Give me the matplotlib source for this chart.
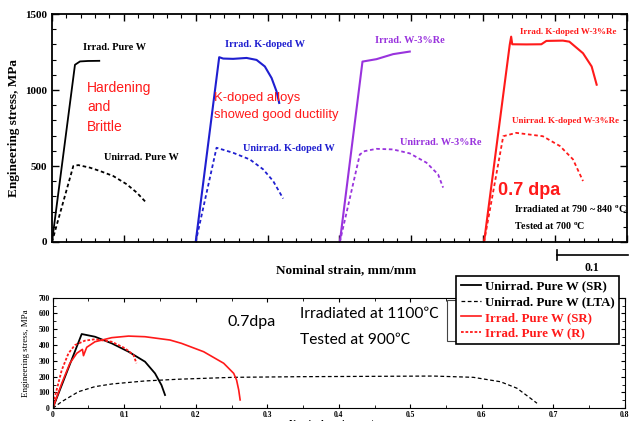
import matplotlib
matplotlib.use('Agg')
import matplotlib.pyplot as plt
from matplotlib.ticker import MultipleLocator
from matplotlib.lines import Line2D
from matplotlib.patches import Rectangle

plt.rcParams['mathtext.fontset'] = 'custom'
plt.rcParams['mathtext.rm'] = 'Liberation Serif:bold'
plt.rcParams['mathtext.it'] = 'Liberation Serif:bold'

SERIF = 'Liberation Serif'
SANS = 'Liberation Sans'

# ---- top panel: 0.7 dpa, irradiated at 790~840 C, tested at 700 C (curves offset by 0.2) ----
purew_irr_x = [0.0, 0.032, 0.039, 0.050, 0.0658]
purew_irr_y = [0, 1166, 1188, 1191, 1192]
purew_un_x = [0.0, 0.0297, 0.0366, 0.0529, 0.0668, 0.0853, 0.104, 0.118, 0.132]
purew_un_y = [0, 500, 506, 489, 467, 434, 380, 325, 255]

kw_irr_x = [0.2, 0.2327, 0.2382, 0.252, 0.2708, 0.2847, 0.2962, 0.3056, 0.3125, 0.3162]
kw_irr_y = [0, 1216, 1207, 1205, 1211, 1198, 1155, 1079, 991, 915]
kw_un_x = [0.2, 0.229, 0.252, 0.2754, 0.2939, 0.3078, 0.3217]
kw_un_y = [0, 620, 587, 543, 478, 401, 286]

re_irr_x = [0.4006, 0.4321, 0.4516, 0.4747, 0.4979]
re_irr_y = [0, 1187, 1203, 1236, 1253]
re_un_x = [0.4006, 0.4284, 0.4353, 0.4516, 0.4747, 0.4979, 0.5211, 0.5373, 0.5443]
re_un_y = [0, 576, 598, 613, 609, 583, 522, 445, 358]

kre_irr_x = [0.6013, 0.637, 0.639, 0.6405, 0.660, 0.681, 0.688, 0.711, 0.720, 0.739, 0.751, 0.758]
kre_irr_y = [0, 1297, 1351, 1301, 1300, 1301, 1323, 1325, 1318, 1242, 1155, 1035]
kre_un_x = [0.6013, 0.628, 0.646, 0.683, 0.707, 0.725, 0.739]
kre_un_y = [0, 696, 718, 696, 631, 544, 401]

# ---- bottom panel: 0.7 dpa, irradiated at 1100 C, tested at 900 C ----
sr_x = [0.0, 0.0405, 0.059, 0.0825, 0.106, 0.129, 0.143, 0.152, 0.157]
sr_y = [0, 470, 453, 411, 358, 295, 221, 147, 84]
lta_x = [0.0, 0.0126, 0.036, 0.059, 0.083, 0.129, 0.176, 0.253, 0.346, 0.439, 0.532,
         0.588, 0.626, 0.649, 0.668, 0.677]
lta_y = [0, 42, 105, 137, 154, 173, 184, 196, 200, 202, 204, 196, 168, 127, 63, 32]
irr_sr_x = [0.0, 0.0126, 0.024, 0.0336, 0.0415, 0.043, 0.0475, 0.059, 0.0825, 0.106,
            0.129, 0.164, 0.180, 0.211, 0.239, 0.253, 0.257, 0.260, 0.262]
irr_sr_y = [0, 158, 285, 348, 373, 333, 386, 421, 447, 457, 453, 432, 411, 358, 285,
            221, 179, 116, 53]
irr_r_x = [0.0, 0.003, 0.0126, 0.022, 0.031, 0.045, 0.059, 0.0825, 0.101, 0.113, 0.117]
irr_r_y = [0, 73, 242, 348, 400, 428, 437, 421, 380, 337, 285]

legend_labels = ['Unirrad. Pure W (SR)', 'Unirrad. Pure W (LTA)',
                 'Irrad. Pure W (SR)', 'Irrad. Pure W (R)']

RED = '#ff1a1a'
BLUE = '#1f1fd0'
PURPLE = '#9933dd'

fig = plt.figure(figsize=(6.3, 4.21), dpi=100)

# top panel
ax = fig.add_axes([0.0825, 0.4252, 0.9125, 0.5415])
ax.plot(purew_irr_x, purew_irr_y, color='black', lw=1.3)
ax.plot(purew_un_x, purew_un_y, color='black', lw=1.3, ls=(0, (2, 1.5)))
ax.plot(kw_irr_x, kw_irr_y, color=BLUE, lw=1.5)
ax.plot(kw_un_x, kw_un_y, color=BLUE, lw=1.3, ls=(0, (2, 1.5)))
ax.plot(re_irr_x, re_irr_y, color=PURPLE, lw=1.5)
ax.plot(re_un_x, re_un_y, color=PURPLE, lw=1.3, ls=(0, (2, 1.5)))
ax.plot(kre_irr_x, kre_irr_y, color=RED, lw=1.5)
ax.plot(kre_un_x, kre_un_y, color=RED, lw=1.3, ls=(0, (2, 1.5)))
ax.set_xlim(0, 0.8)
ax.set_ylim(0, 1500)
ax.xaxis.set_major_locator(MultipleLocator(0.1))
ax.xaxis.set_minor_locator(MultipleLocator(0.02))
ax.yaxis.set_major_locator(MultipleLocator(500))
ax.yaxis.set_minor_locator(MultipleLocator(100))
ax.tick_params(which='both', direction='in', top=True, right=True, labelbottom=False)
ax.tick_params(which='major', length=5, width=1)
ax.tick_params(which='minor', length=3, width=0.8)
for lab in ax.get_yticklabels():
    lab.set_fontfamily(SERIF)
    lab.set_fontweight('bold')
    lab.set_fontsize(8)
for s in ax.spines.values():
    s.set_linewidth(1.3)
ax.set_ylabel('Engineering stress, MPa', fontfamily=SERIF, fontweight='bold', fontsize=9.5)

lbl = dict(fontfamily=SERIF, fontweight='bold', fontsize=7.4)
ax.text(0.043, 1260, 'Irrad. Pure W', color='black', **lbl)
ax.text(0.072, 540, 'Unirrad. Pure W', color='black', **lbl)
ax.text(0.241, 1280, 'Irrad. K-doped W', color=BLUE, **lbl)
ax.text(0.266, 600, 'Unirrad. K-doped W', color=BLUE, **lbl)
ax.text(0.449, 1310, 'Irrad. W-3%Re', color=PURPLE, **lbl)
ax.text(0.484, 640, 'Unirrad. W-3%Re', color=PURPLE, **lbl)
ax.text(0.651, 1370, 'Irrad. K-doped W-3%Re', color=RED, fontfamily=SERIF,
        fontweight='bold', fontsize=6.5)
ax.text(0.640, 785, 'Unirrad. K-doped W-3%Re', color=RED, fontfamily=SERIF,
        fontweight='bold', fontsize=6.5)
ax.text(0.049, 1060, 'Hardening\nand\nBrittle', color=RED, fontfamily=SANS,
        fontsize=10, va='top', linespacing=1.5)
ax.text(0.225, 985, 'K-doped alloys\nshowed good ductility', color=RED, fontfamily=SANS,
        fontsize=9.4, va='top', linespacing=1.5)
ax.text(0.620, 310, '0.7 dpa', color=RED, fontfamily=SANS, fontweight='bold', fontsize=13)
ax.text(0.643, 195, r'Irradiated at 790 ~ 840 $^{o}$C', fontfamily=SERIF,
        fontweight='bold', fontsize=7.2)
ax.text(0.643, 85, r'Tested at 700 $^{o}$C', fontfamily=SERIF, fontweight='bold', fontsize=7.2)

# scale bar for 0.1 strain
fig.add_artist(Line2D([557 / 630, 628 / 630], [1 - 255 / 421, 1 - 255 / 421], color='black', lw=1.2))
fig.add_artist(Line2D([557 / 630, 557 / 630], [1 - 250 / 421, 1 - 260 / 421], color='black', lw=1.2))
fig.text(592 / 630, 1 - 268 / 421, '0.1', fontfamily=SERIF, fontweight='bold', fontsize=8.5,
         ha='center', va='center')
fig.text(346 / 630, 1 - 270 / 421, 'Nominal strain, mm/mm', fontfamily=SERIF, fontweight='bold',
         fontsize=9.5, ha='center', va='center')

# bottom panel
bx = fig.add_axes([0.0837, 0.0302, 0.9083, 0.2627])
bx.plot(sr_x, sr_y, color='black', lw=1.3, label=legend_labels[0])
bx.plot(lta_x, lta_y, color='black', lw=0.9, ls=(0, (3, 2)), label=legend_labels[1])
bx.plot(irr_sr_x, irr_sr_y, color=RED, lw=1.2, label=legend_labels[2])
bx.plot(irr_r_x, irr_r_y, color=RED, lw=1.3, ls=(0, (1.5, 1)), label=legend_labels[3])
bx.set_xlim(0, 0.8)
bx.set_ylim(0, 700)
bx.xaxis.set_major_locator(MultipleLocator(0.1))
bx.xaxis.set_minor_locator(MultipleLocator(0.05))
bx.yaxis.set_major_locator(MultipleLocator(100))
bx.yaxis.set_minor_locator(MultipleLocator(50))
bx.tick_params(which='both', direction='in', top=True, right=True, pad=2)
bx.tick_params(which='major', length=3, width=0.8)
bx.tick_params(which='minor', length=2, width=0.6)
bx.set_xticks([0, 0.1, 0.2, 0.3, 0.4, 0.5, 0.6, 0.7, 0.8])
bx.set_xticklabels(['0', '0.1', '0.2', '0.3', '0.4', '0.5', '0.6', '0.7', '0.8'])
for lab in bx.get_xticklabels() + bx.get_yticklabels():
    lab.set_fontfamily(SERIF)
    lab.set_fontweight('bold')
    lab.set_fontsize(5.5)
bx.set_ylabel('Engineering stress, MPa', fontfamily=SERIF, fontsize=6.5, labelpad=6)
bx.set_xlabel('Nominal strain, mm/mm', fontfamily=SERIF, fontweight='bold', fontsize=6.8,
              labelpad=0)
cal = ['Lato', 'Noto Sans CJK SC']
bx.text(0.245, 520, '0.7dpa', fontfamily=cal, fontsize=11.5)
bx.text(0.345, 575, 'Irradiated at 1100℃', fontfamily=cal, fontsize=11.2)
bx.text(0.345, 405, 'Tested at 900℃', fontfamily=cal, fontsize=11.2)

# partly hidden legend box behind the main legend
fig.add_artist(Rectangle((447 / 630, 1 - 341 / 421), 22 / 630, 41 / 421, fill=False,
                         edgecolor='#444444', lw=0.8, zorder=1))
leg = fig.legend(loc='upper left', bbox_to_anchor=(456 / 630, 1 - 276 / 421),
                 prop={'family': SERIF, 'weight': 'bold', 'size': 9.3},
                 frameon=True, fancybox=False, edgecolor='black', handlelength=1.6,
                 handletextpad=0.3, borderpad=0.35, labelspacing=0.28, borderaxespad=0,
                 framealpha=1, labelcolor=['black', 'black', RED, RED])
leg.get_frame().set_linewidth(1.2)
leg.set_zorder(10)

fig.savefig('out.png', dpi=100)
